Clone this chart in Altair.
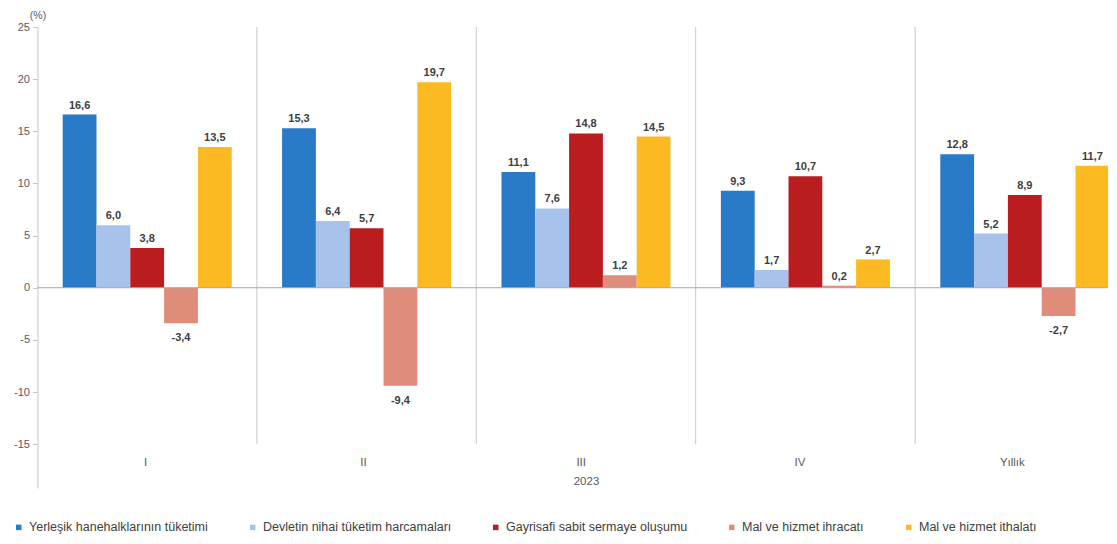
import altair as alt
import pandas as pd

quarters = ["I", "II", "III", "IV", "Yıllık"]
series = [
    "Yerleşik hanehalklarının tüketimi",
    "Devletin nihai tüketim harcamaları",
    "Gayrisafi sabit sermaye oluşumu",
    "Mal ve hizmet ihracatı",
    "Mal ve hizmet ithalatı",
]
hanehalki = [16.6, 15.3, 11.1, 9.3, 12.8]
devlet = [6.0, 6.4, 7.6, 1.7, 5.2]
gsso = [3.8, 5.7, 14.8, 10.7, 8.9]
ihracat = [-3.4, -9.4, 1.2, 0.2, -2.7]
ithalat = [13.5, 19.7, 14.5, 2.7, 11.7]
colors = ["#2A7BC7", "#A7C3EB", "#B91D1F", "#E08C7A", "#FBBA21"]
y_ticks = [-15, -10, -5, 0, 5, 10, 15, 20, 25]
separators = ["II", "III", "IV", "Yıllık"]
year_label = "2023"

values = [hanehalki, devlet, gsso, ihracat, ithalat]
rows = []
for s, vals in zip(series, values):
    for q, v in zip(quarters, vals):
        rows.append({"grup": q, "seri": s, "deger": v})
df = pd.DataFrame(rows)

FONT = "Liberation Sans"
GRAY = "#595959"
LINE = "#C8C8C8"

x_scale = alt.Scale(domain=quarters, range=[0, 1097], paddingInner=0, paddingOuter=0)
xo_scale = alt.Scale(domain=series, paddingOuter=0.745, paddingInner=0)
y_scale = alt.Scale(domain=[-19.2, 25], nice=False, zero=False)

x_axis = alt.Axis(
    title=year_label, domain=False, ticks=False, labelAngle=0,
    labelFontSize=11.5, labelColor=GRAY, labelFont=FONT, labelPadding=4,
    titleFontSize=11.5, titleColor=GRAY, titleFont=FONT, titleFontWeight="normal",
    titlePadding=8, offset=-30,
)
y_axis = alt.Axis(
    values=y_ticks, labelExpr="toString(datum.value)", grid=False,
    domainColor=LINE, tickColor=LINE, tickSize=5, labelPadding=3,
    labelFontSize=11, labelColor=GRAY, labelFont=FONT,
    title="(%)", titleAngle=0, titleX=0, titleY=-12, titleAlign="center",
    titleBaseline="middle", titleFontSize=10.5, titleColor=GRAY, titleFont=FONT,
    titleFontWeight="normal",
)

base = alt.Chart(df)

bars = base.mark_bar().encode(
    x=alt.X("grup:N", sort=quarters, scale=x_scale, axis=x_axis),
    xOffset=alt.XOffset("seri:N", sort=series, scale=xo_scale),
    y=alt.Y("deger:Q", scale=y_scale, axis=y_axis),
    color=alt.Color(
        "seri:N", sort=series, scale=alt.Scale(domain=series, range=colors),
        legend=alt.Legend(
            title=None, orient="none", legendX=-25, legendY=494,
            direction="horizontal", columnPadding=38, symbolType="square",
            symbolSize=30, symbolStrokeWidth=0, labelFontSize=12.5,
            labelColor="#404040", labelFont=FONT, labelOffset=4, labelLimit=400,
        ),
    ),
)

label_expr = "replace(replace(format(datum.deger, '.1f'), '.', ','), '\u2212', '-')"

pos_text = base.transform_filter("datum.deger >= 0").transform_calculate(
    label=label_expr
).mark_text(baseline="bottom", dy=-4, fontSize=11, fontWeight="bold", font=FONT, color="#404040").encode(
    x=alt.X("grup:N", sort=quarters, scale=x_scale),
    xOffset=alt.XOffset("seri:N", sort=series, scale=xo_scale),
    y=alt.Y("deger:Q", scale=y_scale),
    text="label:N",
)

neg_text = base.transform_filter("datum.deger < 0").transform_calculate(
    label=label_expr
).mark_text(baseline="top", dy=9, fontSize=11, fontWeight="bold", font=FONT, color="#404040").encode(
    x=alt.X("grup:N", sort=quarters, scale=x_scale),
    xOffset=alt.XOffset("seri:N", sort=series, scale=xo_scale),
    y=alt.Y("deger:Q", scale=y_scale),
    text="label:N",
)

sep_df = pd.DataFrame({"grup": separators, "top": [max(y_ticks)] * len(separators),
                       "bottom": [min(y_ticks)] * len(separators)})
seps = alt.Chart(sep_df).mark_rule(color=LINE, strokeWidth=1).encode(
    x=alt.X("grup:N", sort=quarters, scale=x_scale, bandPosition=0),
    y=alt.Y("top:Q", scale=y_scale),
    y2="bottom:Q",
)

zero = alt.Chart(pd.DataFrame({"y": [0]})).mark_rule(color="#A6A6A6", strokeWidth=1).encode(
    y=alt.Y("y:Q", scale=y_scale)
)

chart = alt.layer(seps, bars, zero, pos_text, neg_text).properties(
    width=1070, height=461,
    autosize=alt.AutoSizeParams(type="none"),
    padding={"left": 29.5, "top": 19, "right": 0, "bottom": 48},
    background="white",
).configure_view(stroke=None)

chart.save("out.html", embed_options={"renderer": "svg", "actions": False})
